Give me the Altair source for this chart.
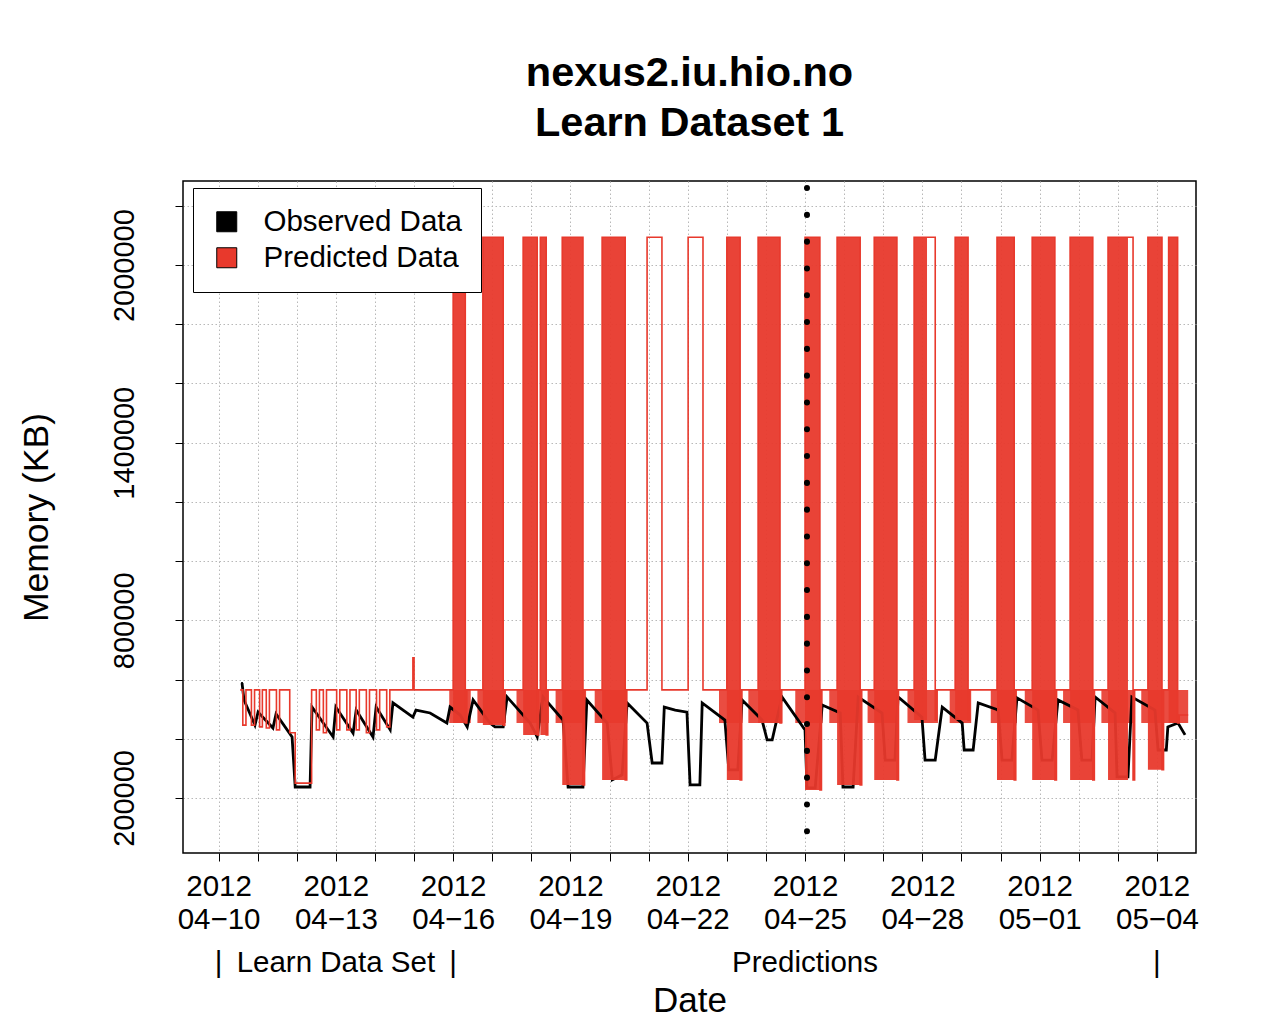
import json
import altair as alt
import pandas as pd

RED = "#e8392c"
FONT = "Liberation Sans"

# ---- observed memory (days since 2012-04-10 00:00, KB) ----
obs_t = [0.60, 0.65, 0.93, 1.01, 1.39, 1.47, 1.88, 1.96, 2.34, 2.39, 2.93, 3.00, 3.44, 3.52,
         3.95, 4.03, 4.39, 4.46, 4.97, 5.05, 5.41, 5.84, 5.92, 6.18, 6.36, 6.51, 6.94, 7.07,
         7.28, 7.38, 7.97, 8.15, 8.30, 8.81, 8.94, 9.32, 9.42, 9.94, 10.07, 10.32, 10.45,
         10.96, 11.09, 11.34, 11.40, 11.68, 11.98, 12.06, 12.31, 12.37, 12.95, 13.05, 13.28,
         13.39, 13.90, 14.03, 14.16, 14.41, 15.00, 15.05, 15.26, 15.44, 15.90, 15.97, 16.23,
         16.36, 16.97, 17.05, 17.30, 17.38, 17.99, 18.07, 18.33, 18.51, 19.02, 19.07, 19.30,
         19.43, 19.94, 20.04, 20.29, 20.42, 20.96, 21.06, 21.32, 21.47, 21.98, 22.08, 22.34,
         22.42, 22.93, 22.98, 23.26, 23.36, 23.95, 24.03, 24.24, 24.28, 24.54, 24.72]
obs_v = [588000, 531000, 446000, 490000, 436000, 484000, 406000, 237000, 237000, 507000,
         406000, 507000, 419000, 497000, 406000, 507000, 430000, 521000, 473000, 497000,
         487000, 453000, 507000, 480000, 440000, 531000, 453000, 440000, 440000, 541000,
         453000, 406000, 541000, 463000, 237000, 237000, 531000, 453000, 261000, 278000,
         521000, 453000, 318000, 318000, 507000, 497000, 490000, 244000, 244000, 521000,
         463000, 295000, 295000, 531000, 463000, 396000, 396000, 541000, 430000, 234000,
         234000, 514000, 487000, 237000, 237000, 541000, 487000, 328000, 328000, 541000,
         473000, 328000, 328000, 507000, 453000, 362000, 362000, 521000, 497000, 328000,
         328000, 538000, 497000, 328000, 328000, 531000, 497000, 328000, 328000, 541000,
         487000, 271000, 271000, 541000, 497000, 362000, 362000, 440000, 453000, 413000]

# ---- predicted memory, step change points ----
PEAK = 2094000
pred_t = [0.58, 0.62, 0.70, 0.84, 0.92, 1.05, 1.12, 1.22, 1.30, 1.48, 1.56, 1.82, 1.96, 2.38,
          2.50, 2.58, 2.68, 2.76, 3.02, 3.10, 3.28, 3.36, 3.52, 3.60, 3.78, 3.86, 4.04, 4.12,
          4.30, 4.38, 4.97, 5.00,
          6.00, 6.31, 6.35, 6.76, 7.28, 7.32, 7.79, 8.15, 8.19, 8.23, 8.38, 8.42,
          8.79, 9.32, 9.36, 9.81, 10.40, 10.44, 10.96, 11.34, 12.01, 12.39,
          13.00, 13.34, 13.38, 13.80, 14.36, 14.40, 15.00, 15.38, 15.42, 15.82, 16.41, 16.45,
          16.77, 17.35, 17.39, 17.79, 18.33, 18.37, 18.84, 19.17, 19.21, 19.91, 20.35, 20.39,
          20.81, 21.39, 21.43, 21.78, 22.36, 22.40, 22.75, 23.39, 23.43, 23.77, 24.13, 24.17,
          24.30, 24.53, 24.57, 24.80]
pred_v = [565000, 446000, 565000, 446000, 565000, 440000, 565000, 436000, 565000, 430000,
          565000, 420000, 250000, 565000, 430000, 565000, 420000, 565000, 430000, 565000,
          430000, 565000, 430000, 565000, 420000, 565000, 430000, 565000, 440000, 565000,
          673000, 565000,
          PEAK, 453000, 565000, PEAK, 446000, 565000, PEAK, 413000, 565000, PEAK, 413000, 565000,
          PEAK, 244000, 565000, PEAK, 261000, 565000, PEAK, 565000, PEAK, 565000,
          PEAK, 261000, 565000, PEAK, 453000, 565000, PEAK, 227000, 565000, PEAK, 244000, 565000,
          PEAK, 261000, 565000, PEAK, 463000, 565000, PEAK, 463000, 565000, PEAK, 261000, 565000,
          PEAK, 261000, 565000, PEAK, 261000, 565000, PEAK, 261000, 565000, PEAK, 295000, 565000,
          PEAK, 453000, 480000, 480000]

# dense (filled-looking) prediction bursts
band_start = [6.00, 6.76, 7.79, 8.23, 8.79, 9.81, 13.00, 13.80, 15.00, 15.82, 16.77, 17.79,
              18.84, 19.91, 20.81, 21.78, 22.75, 23.77, 24.30]
band_end = [6.31, 7.28, 8.15, 8.38, 9.32, 10.40, 13.34, 14.36, 15.38, 16.41, 17.35, 18.12,
            19.17, 20.35, 21.39, 22.36, 23.26, 24.13, 24.53]
band_low = [453000, 446000, 413000, 413000, 244000, 261000, 261000, 453000, 227000, 244000,
            261000, 463000, 463000, 261000, 261000, 261000, 261000, 295000, 453000]

# lower dense zone next to the bursts
shoulder_start = [5.90, 6.62, 7.62, 8.62, 9.62, 12.80, 13.55, 14.75, 15.62, 16.60, 17.62,
                  18.70, 19.75, 20.62, 21.60, 22.58, 23.60]
shoulder_end = [6.45, 7.35, 8.45, 9.40, 10.45, 13.40, 14.42, 15.45, 16.45, 17.40, 18.40,
                19.25, 20.42, 21.45, 22.42, 23.42, 24.80]
SHOULDER_LOW = 453000
SHOULDER_HIGH = 565000

split_day = 15.05

tick_days = list(range(0, 25))
tick_dates = ["04−10", "04−13", "04−16", "04−19", "04−22", "04−25", "04−28", "05−01", "05−04"]
tick_year = "2012"
y_ticks = [200000, 400000, 600000, 800000, 1000000, 1200000, 1400000, 1600000, 1800000,
           2000000, 2200000]
y_labeled = [200000, 800000, 1400000, 2000000]

note_t = [0, 3, 6, 15, 24]
note_text = ["|", "Learn Data Set", "|", "Predictions", "|"]

series_names = ["Observed Data", "Predicted Data"]

# ---- tables ----
obs_df = pd.DataFrame({"t": obs_t, "v": obs_v})
pred_df = pd.DataFrame({"t": pred_t, "v": pred_v})
band_df = pd.DataFrame({"t": band_start, "t_end": band_end, "v": band_low,
                        "v_end": [PEAK] * len(band_start)})
sh_df = pd.DataFrame({"t": shoulder_start, "t_end": shoulder_end,
                      "v": [SHOULDER_LOW] * len(shoulder_start),
                      "v_end": [SHOULDER_HIGH] * len(shoulder_start)})
split_df = pd.DataFrame({"t": [split_day]})
leg_df = pd.DataFrame({"t": [obs_t[0], pred_t[0]], "v": [obs_v[0], pred_v[0]],
                       "series": series_names})
note_df = pd.DataFrame({"t": note_t, "note": note_text})

x_scale = alt.Scale(domain=[-0.91, 25.0], nice=False, zero=False)
y_scale = alt.Scale(domain=[14000, 2284000], nice=False, zero=False)

x_label_expr = ("datum.value % 3 == 0 ? ['" + tick_year + "', "
                + json.dumps(tick_dates, ensure_ascii=False)
                + "[round(datum.value / 3)]] : ''")
y_label_expr = ("indexof(" + json.dumps(y_labeled) + ", datum.value) >= 0 ? datum.label : ''")

x_axis = alt.Axis(values=tick_days, labelExpr=x_label_expr, labelFontSize=29.5,
                  labelLineHeight=33, labelPadding=11, labelBaseline="top",
                  labelFlush=False, labelOverlap=False, tickSize=8, tickColor="black",
                  grid=True, gridDash=[1.5, 2.5], gridColor="#b8b8b8", domain=False,
                  title="Date", titleFontSize=35, titleFontWeight="normal",
                  titlePadding=50, labelColor="black", titleColor="black")
y_axis = alt.Axis(values=y_ticks, labelExpr=y_label_expr, format="d", labelAngle=270,
                  labelAlign="center", labelBaseline="bottom", labelPadding=36,
                  labelFontSize=29, labelOverlap=False, labelFlush=False, tickSize=8,
                  tickColor="black", grid=True, gridDash=[1.5, 2.5], gridColor="#b8b8b8",
                  domain=False, title="Memory (KB)", titleFontSize=35.5,
                  titleFontWeight="normal", titlePadding=56, labelColor="black",
                  titleColor="black")

X = lambda: alt.X("t:Q", scale=x_scale, axis=x_axis, title="Date")
Y = lambda: alt.Y("v:Q", scale=y_scale, axis=y_axis, title="Memory (KB)")

shoulders = alt.Chart(sh_df).mark_rect(color=RED, opacity=0.9).encode(
    x=X(), x2="t_end:Q", y=Y(), y2="v_end:Q")

observed = alt.Chart(obs_df).mark_line(color="black", strokeWidth=2.8).encode(x=X(), y=Y())

bands = alt.Chart(band_df).mark_rect(color=RED, opacity=0.95).encode(
    x=X(), x2="t_end:Q", y=Y(), y2="v_end:Q")

predicted = alt.Chart(pred_df).mark_line(color=RED, strokeWidth=1.6,
                                         interpolate="step-after").encode(x=X(), y=Y())

split = alt.Chart(split_df).mark_rule(color="black", strokeWidth=6, strokeDash=[0.1, 26.7],
                                      strokeDashOffset=-7, strokeCap="round").encode(x=X())

legend_layer = alt.Chart(leg_df).mark_square(filled=True, size=4, opacity=1).encode(
    x=X(), y=Y(),
    color=alt.Color("series:N",
                    scale=alt.Scale(domain=series_names, range=["black", RED]),
                    legend=alt.Legend(title=None, orient="none", legendX=10, legendY=7,
                                      symbolType="square", symbolSize=400,
                                      symbolStrokeColor="black", symbolStrokeWidth=1,
                                      labelFontSize=29.5, labelFont=FONT, labelOffset=22,
                                      labelLimit=400, rowPadding=5, padding=19,
                                      strokeColor="black", fillColor="white",
                                      labelColor="black")))

notes = alt.Chart(note_df).mark_text(fontSize=29.5, font=FONT, baseline="middle",
                                     color="black").encode(
    x=X(), y=alt.value(782), text="note:N")

chart = alt.layer(shoulders, observed, bands, predicted, split, legend_layer, notes).properties(
    width=1013, height=672,
    title=alt.Title(text=["nexus2.iu.hio.no", "Learn Dataset 1"], fontSize=41.5, font=FONT,
                    fontWeight="bold", lineHeight=50, offset=34, anchor="middle",
                    color="black"),
    padding={"left": 175, "top": 173, "right": 60, "bottom": 166},
    autosize=alt.AutoSizeParams(type="none"),
    background="white",
).configure_view(stroke="black", strokeWidth=1.5).configure_axis(
    labelFont=FONT, titleFont=FONT
)

chart.save("out.html", embed_options={"renderer": "svg", "actions": False})
